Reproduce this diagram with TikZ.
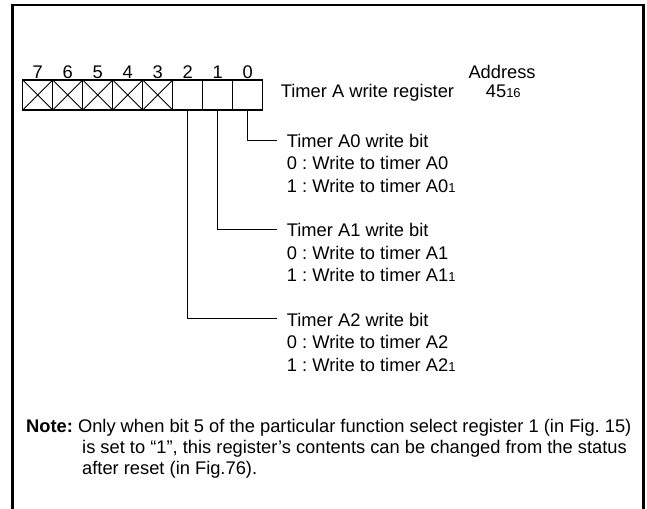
\documentclass[tikz,border=0pt]{standalone}
\usepackage{fontspec}
\setmainfont{Liberation Sans}
\newcommand{\smd}[1]{{\fontsize{13}{13}\selectfont #1}}
\frenchspacing
\begin{document}
\begin{tikzpicture}[x=1pt,y=-1pt,
  txt/.style={anchor=base west,inner sep=0pt,font=\fontsize{18.3}{22}\selectfont},
  num/.style={anchor=base,inner sep=0pt,font=\fontsize{18.3}{22}\selectfont},
  cell/.style={draw,line width=1.1pt,minimum width=30pt,minimum height=30pt,inner sep=0pt,outer sep=0pt},
  conn/.style={line width=0.9pt},
  frame/.style={line width=2.6pt}]
\useasboundingbox (0,0) rectangle (647,508);
% frame
\coordinate (fa) at (12.3,520);
\coordinate (fb) at (12.3,5);
\coordinate (fc) at (643.5,5);
\coordinate (fd) at (643.5,520);
\draw[frame] (fa) -- (fb) -- (fc) -- (fd);
% cells
\foreach \i in {0,...,7}{
  \node[cell] (c\i) at ({247.7-30*\i},95) {};
  \node[num] (b\i) at ({247.7-30*\i},78.3) {\i};
}
\foreach \i in {3,...,7}{
  \draw[line width=0.8pt] (c\i.north west) -- (c\i.south east) (c\i.south west) -- (c\i.north east);
}
% header texts
\node[txt] (addr) at (468.3,79) {Address};
\node[txt] (reg) at (280.7,97.5) {Timer A write register};
\node[txt] (val) at (485.7,97.5) {45\smd{16}};
% bit 0
\node[txt] (t0) at (286.7,147.3) {Timer A0 write bit};
\node[txt] (t0a) at (286.7,169.8) {0 : Write to timer A0};
\node[txt] (t0b) at (286.7,192.3) {1 : Write to timer A0\smd{1}};
\coordinate (k0) at (276.7,140);
\draw[conn] (c0.south) |- (k0);
% bit 1
\node[txt] (t1) at (286.7,236.8) {Timer A1 write bit};
\node[txt] (t1a) at (286.7,259.3) {0 : Write to timer A1};
\node[txt] (t1b) at (286.7,281.8) {1 : Write to timer A1\smd{1}};
\coordinate (k1) at (276.7,229.4);
\draw[conn] (c1.south) |- (k1);
% bit 2
\node[txt] (t2) at (286.7,326.3) {Timer A2 write bit};
\node[txt] (t2a) at (286.7,348.8) {0 : Write to timer A2};
\node[txt] (t2b) at (286.7,371.3) {1 : Write to timer A2\smd{1}};
\coordinate (k2) at (276.7,318.9);
\draw[conn] (c2.south) |- (k2);
% note
\node[txt] (n1) at (26,432.5) {\textbf{Note:} Only when bit 5 of the particular function select register 1 (in Fig. 15)};
\node[txt] (n2) at (82,453.5) {is set to “1”, this register’s contents can be changed from the status};
\node[txt] (n3) at (82,474.5) {after reset (in Fig.76).};
\end{tikzpicture}
\end{document}
